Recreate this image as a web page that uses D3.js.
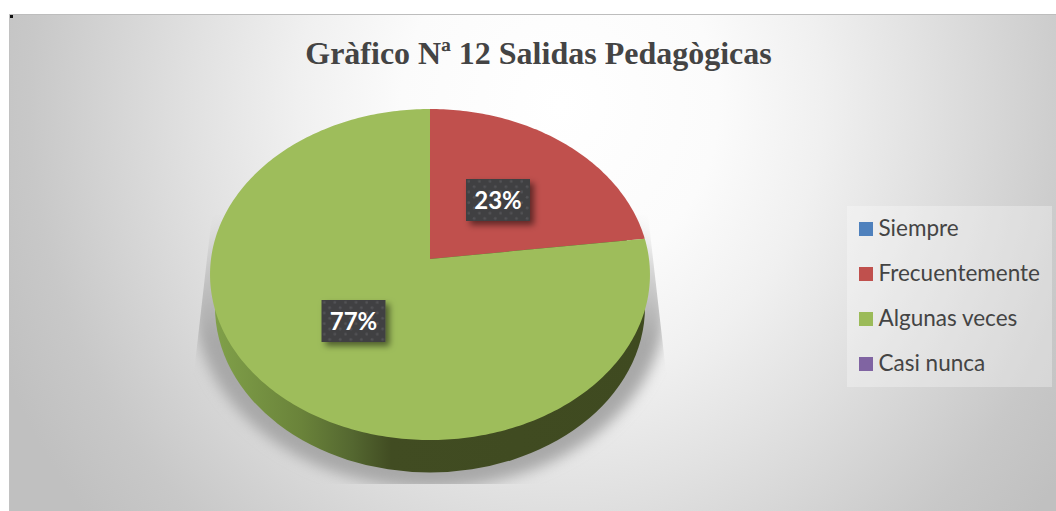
<!DOCTYPE html>
<html><head><meta charset="utf-8">
<style>html,body{margin:0;padding:0;background:#fff}svg{display:block}</style>
<script src="https://cdn.jsdelivr.net/npm/d3@7/dist/d3.min.js"></script>
</head><body><svg id="c" width="1056" height="511"></svg>
<script>
const chartTitle = "Gràfico Nª 12 Salidas Pedagògicas";
const categories = ["Siempre","Frecuentemente","Algunas veces","Casi nunca"];
const seriesValues = [0,23,77,0];
const seriesColors = ["#4f81bd","#c0504d","#9ebd5b","#8064a2"];

const W=1056,H=511;
const svg=d3.select("#c");
const defs=svg.append("defs");

// background
const bg=defs.append("radialGradient").attr("id","bg").attr("gradientUnits","userSpaceOnUse")
 .attr("cx",0).attr("cy",0).attr("r",1)
 .attr("gradientTransform","translate(560,105) scale(610,650)");
[[0,"#ffffff"],[0.26,"#fbfbfb"],[0.43,"#f0f0f0"],[0.59,"#e2e2e2"],[0.87,"#c8c8c8"],[1,"#c0c0c0"]].forEach(s=>bg.append("stop").attr("offset",s[0]).attr("stop-color",s[1]));
svg.append("rect").attr("x",9).attr("y",14).attr("width",W-9).attr("height",H-14).attr("fill","url(#bg)");
svg.append("line").attr("x1",9).attr("x2",W).attr("y1",14.5).attr("y2",14.5).attr("stroke","#bdbdbd");
svg.append("line").attr("x1",9.5).attr("x2",9.5).attr("y1",14).attr("y2",H).attr("stroke","#c2c2c2");
svg.append("rect").attr("x",10).attr("y",15).attr("width",3).attr("height",3).attr("fill","#111");

// title
svg.append("text").attr("x",538.5).attr("y",64).attr("text-anchor","middle")
 .attr("font-family","'Liberation Serif'").attr("font-weight","bold").attr("font-size",32)
 .attr("fill","#444").text(chartTitle);

// perspective projection of the unit disc
const cx=430, apexY=259, persp=0.0937, slope=139.8, R=219;
const project=(a,r=1)=>{const u=r*Math.sin(a),v=r*Math.cos(a),d=1+persp*v;return [cx+R*u/d,(apexY-slope*v)/d];};
const line=d3.line();

// shadow
const sg=defs.append("linearGradient").attr("id","sg").attr("gradientUnits","userSpaceOnUse").attr("x1",0).attr("x2",0).attr("y1",215).attr("y2",340);
sg.append("stop").attr("offset",0).attr("stop-color","#a8a8a8").attr("stop-opacity",0);
sg.append("stop").attr("offset",1).attr("stop-color","#a8a8a8").attr("stop-opacity",1);
defs.append("filter").attr("id","blur").attr("x","-20%").attr("y","-20%").attr("width","140%").attr("height","140%")
 .append("feGaussianBlur").attr("stdDeviation",7);
defs.append("clipPath").attr("id","sc").append("polygon")
 .attr("points","212,215 648,215 666,372 720,372 720,484 140,484 140,372 194,372");
svg.append("g").attr("clip-path","url(#sc)").append("ellipse")
 .attr("cx",430).attr("cy",302).attr("rx",236).attr("ry",186).attr("fill","url(#sg)").attr("filter","url(#blur)");

// side wall
const rim=defs.append("linearGradient").attr("id","rim").attr("gradientUnits","userSpaceOnUse").attr("x1",215).attr("x2",645).attr("y1",0).attr("y2",0);
[[0,"#80a049"],[0.2,"#6a833a"],[0.32,"#546730"],[0.41,"#414c22"],[1,"#3f4a20"]].forEach(s=>rim.append("stop").attr("offset",s[0]).attr("stop-color",s[1]));
svg.append("ellipse").attr("cx",430).attr("cy",307).attr("rx",215).attr("ry",165.5).attr("fill","url(#rim)");

// slices from d3.pie
const pie=d3.pie().sort(null).value(d=>d)(seriesValues);
svg.append("g").selectAll("path").data(pie.filter(d=>d.value>0)).join("path")
 .attr("fill",d=>seriesColors[d.index])
 .attr("d",d=>{
   const n=Math.ceil((d.endAngle-d.startAngle)*60);
   const pts=d3.range(n+1).map(i=>project(d.startAngle+(d.endAngle-d.startAngle)*i/n));
   return line([project(0,0),...pts])+"Z";
 });

// data labels
const pat=defs.append("pattern").attr("id","dots").attr("patternUnits","userSpaceOnUse").attr("width",10.6).attr("height",10.6);
pat.append("rect").attr("width",10.6).attr("height",10.6).attr("fill","#404042");
[[2.6,2.6],[7.9,7.9]].forEach(p=>pat.append("circle").attr("cx",p[0]).attr("cy",p[1]).attr("r",1.4).attr("fill","#525255"));
const ds=defs.append("filter").attr("id","ds").attr("x","-20%").attr("y","-20%").attr("width","150%").attr("height","160%");
ds.append("feDropShadow").attr("dx",4).attr("dy",4).attr("stdDeviation",3).attr("flood-color","#000").attr("flood-opacity",0.5);
const labelAnchors=[null,[498,200],[353.5,321],null];
const lab=svg.append("g").selectAll("g").data(pie.filter(d=>d.value>0)).join("g")
 .attr("transform",d=>`translate(${labelAnchors[d.index]})`);
lab.append("rect").attr("x",-32).attr("y",-21).attr("width",64).attr("height",42).attr("fill","url(#dots)").attr("filter","url(#ds)");
lab.append("text").attr("y",9).attr("text-anchor","middle").attr("fill","#fff").attr("font-family","Lato").attr("font-weight","bold").attr("font-size",24)
 .text(d=>d.value+"%");

// legend
svg.append("rect").attr("x",847).attr("y",206).attr("width",205).attr("height",181).attr("fill","#fff").attr("fill-opacity",0.3);
const y=d3.scalePoint().domain(categories).range([229,364]);
const lg=svg.append("g").selectAll("g").data(categories).join("g").attr("transform",d=>`translate(859,${y(d)})`);
lg.append("rect").attr("y",-7).attr("width",14).attr("height",14).attr("fill",(d,i)=>i===2?"#9bbb59":seriesColors[i]);
lg.append("text").attr("x",19.5).attr("y",6.5).attr("fill","#444").attr("font-family","Lato").attr("font-size",22.5).text(d=>d);
</script></body></html>
